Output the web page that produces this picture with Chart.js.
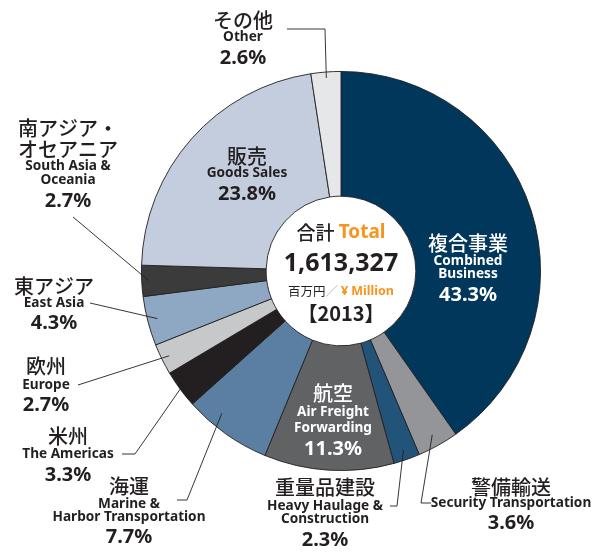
<!DOCTYPE html>
<html>
<head>
<meta charset="utf-8">
<script src="https://cdn.jsdelivr.net/npm/chart.js@4.4.1/dist/chart.umd.min.js"></script>
<style>
  html, body { margin: 0; padding: 0; background: #fff; }
  #wrap { width: 595px; height: 552px; }
</style>
</head>
<body>
<div id="wrap"><canvas id="chart" width="595" height="552"></canvas></div>
<script>
// segments, clockwise from 12 o'clock
const namesJa = ['複合事業', '警備輸送', '重量品建設', '航空', '海運', '米州', '欧州', '東アジア', '南アジア・オセアニア', '販売', 'その他'];
const namesEn = ['Combined Business', 'Security Transportation', 'Heavy Haulage & Construction', 'Air Freight Forwarding',
  'Marine & Harbor Transportation', 'The Americas', 'Europe', 'East Asia', 'South Asia & Oceania', 'Goods Sales', 'Other'];
const shares = [43.3, 3.6, 2.3, 11.3, 7.7, 3.3, 2.7, 4.3, 2.7, 23.8, 2.6];
const totalValue = '1,613,327';
const yearLabel = '2013';

const sliceColors = ['#00375b', '#939598', '#22547a', '#616264', '#5b7fa2', '#231f20',
  '#c7c8ca', '#8ea7c2', '#3b3b3c', '#c3cddd', '#e6e7e8'];

const INK = '#231f20';
const ORANGE = '#f7941d';
const JA = '"Noto Sans CJK JP", sans-serif';
const LAT = '"Noto Sans", "Noto Sans CJK JP", sans-serif';

// label layout: text lines [text, y, kind], optional leader (label-side points, ending at the slice)
const labelLayout = [
  { i: 0, x: 468, color: '#fff', lines: [['複合事業', 243, 'ja'], ['Combined', 261, 'en'], ['Business', 274, 'en'], ['43.3%', 295, 'pct']] },
  { i: 3, x: 333, color: '#fff', lines: [['航空', 393, 'ja'], ['Air Freight', 412, 'en'], ['Forwarding', 428, 'en'], ['11.3%', 449, 'pct']] },
  { i: 9, x: 247, color: INK, lines: [['販売', 156, 'ja'], ['Goods Sales', 173, 'en'], ['23.8%', 194, 'pct']] },
  { i: 10, x: 243, color: INK, lines: [['その他', 20, 'ja'], ['Other', 37, 'en'], ['2.6%', 58, 'pct']],
    leader: [[287, 29], [325, 29]], r: 0.97 },
  { i: 8, x: 68, color: INK, lines: [['南アジア・', 128, 'ja'], ['オセアニア', 149, 'ja'], ['South Asia &', 166, 'en'], ['Oceania', 180, 'en'], ['2.7%', 201, 'pct']],
    leader: [[73, 217]], r: 0.965 },
  { i: 7, x: 54, color: INK, lines: [['東アジア', 286, 'ja'], ['East Asia', 303, 'en'], ['4.3%', 323, 'pct']],
    leader: [[90, 303]], r: 0.95 },
  { i: 6, x: 46, color: INK, lines: [['欧州', 366, 'ja'], ['Europe', 385, 'en'], ['2.7%', 405, 'pct']],
    leader: [[78, 385]], r: 0.96 },
  { i: 5, x: 68, color: INK, lines: [['米州', 436, 'ja'], ['The Americas', 454, 'en'], ['3.3%', 475, 'pct']],
    leader: [[122, 454], [135, 454]], r: 1.0 },
  { i: 4, x: 129, color: INK, lines: [['海運', 486, 'ja'], ['Marine &', 504, 'en'], ['Harbor Transportation', 517, 'en'], ['7.7%', 537, 'pct']],
    leader: [[177, 500], [187, 500]], r: 0.93, t: 0.68 },
  { i: 2, x: 325, color: INK, lines: [['重量品建設', 487, 'ja'], ['Heavy Haulage &', 506, 'en'], ['Construction', 519, 'en'], ['2.3%', 540, 'pct']],
    leader: [[390, 506], [397, 506]], r: 0.95 },
  { i: 1, x: 511, color: INK, lines: [['警備輸送', 487, 'ja'], ['Security Transportation', 503, 'en'], ['3.6%', 523, 'pct']],
    leader: [[431, 503], [421, 503]], r: 0.94 }
];

function fontFor(kind) {
  if (kind === 'ja') return '500 20px ' + JA;
  if (kind === 'en') return 'bold 14.5px ' + LAT;
  return 'bold 20px ' + LAT;
}

const labelPlugin = {
  id: 'sliceLabels',
  afterDraw(chart) {
    const ctx = chart.ctx;
    const arcs = chart.getDatasetMeta(0).data;
    ctx.save();
    ctx.textAlign = 'center';
    ctx.textBaseline = 'middle';

    // leader lines
    ctx.strokeStyle = INK;
    ctx.lineWidth = 0.9;
    labelLayout.forEach(l => {
      if (!l.leader) return;
      const a = arcs[l.i];
      const t = l.t === undefined ? 0.5 : l.t;
      const ang = a.startAngle + (a.endAngle - a.startAngle) * t;
      const rr = a.outerRadius * l.r;
      ctx.beginPath();
      ctx.moveTo(l.leader[0][0], l.leader[0][1]);
      l.leader.slice(1).forEach(p => ctx.lineTo(p[0], p[1]));
      ctx.lineTo(a.x + Math.cos(ang) * rr, a.y + Math.sin(ang) * rr);
      ctx.stroke();
    });

    labelLayout.forEach(l => {
      ctx.fillStyle = l.color;
      l.lines.forEach(([txt, y, kind]) => {
        ctx.font = fontFor(kind);
        if (kind === 'en') {
          // condensed look of the original face
          ctx.save();
          ctx.translate(l.x, y);
          ctx.scale(0.94, 1);
          ctx.fillText(txt, 0, 0);
          ctx.restore();
        } else {
          ctx.fillText(txt, l.x, y);
        }
      });
    });

    // centre block
    const cx = arcs[0].x;
    const cy = arcs[0].y;
    ctx.textAlign = 'left';
    ctx.font = '500 19px ' + JA;
    const w1 = ctx.measureText('合計 ').width;
    ctx.font = 'bold 19px ' + LAT;
    const w2 = ctx.measureText('Total').width;
    let x0 = cx - (w1 + w2) / 2;
    ctx.fillStyle = INK;
    ctx.font = '500 19px ' + JA;
    ctx.fillText('合計 ', x0, cy - 38);
    ctx.fillStyle = ORANGE;
    ctx.font = 'bold 19px ' + LAT;
    ctx.fillText('Total', x0 + w1, cy - 38);

    ctx.textAlign = 'center';
    ctx.fillStyle = INK;
    ctx.font = 'bold 25px ' + LAT;
    ctx.fillText(totalValue, cx, cy - 7);

    ctx.textAlign = 'left';
    const parts = [['百万円', '400 12.5px ' + JA, INK], ['／ ', '400 12.5px ' + JA, '#b5b6b8'], ['¥ Million', 'bold 12.5px ' + LAT, ORANGE]];
    let tw = 0;
    parts.forEach(p => { ctx.font = p[1]; tw += ctx.measureText(p[0]).width; });
    x0 = cx - tw / 2;
    parts.forEach(p => {
      ctx.font = p[1];
      ctx.fillStyle = p[2];
      ctx.fillText(p[0], x0, cy + 20);
      x0 += ctx.measureText(p[0]).width;
    });

    ctx.textAlign = 'center';
    ctx.fillStyle = INK;
    ctx.font = 'bold 20px ' + JA;
    ctx.fillText('【' + yearLabel + '】', cx, cy + 42);
    ctx.restore();
  }
};

new Chart(document.getElementById('chart').getContext('2d'), {
  type: 'doughnut',
  data: {
    labels: namesJa.map((n, k) => n + ' ' + namesEn[k]),
    datasets: [{
      data: shares,
      backgroundColor: sliceColors,
      borderColor: INK,
      borderWidth: 0.9,
      hoverBorderWidth: 0.9,
      hoverOffset: 0
    }]
  },
  options: {
    responsive: false,
    animation: false,
    cutout: '37.5%',
    layout: { padding: { left: 141, right: 54, top: 71, bottom: 81 } },
    plugins: { legend: { display: false }, tooltip: { enabled: false } }
  },
  plugins: [labelPlugin]
});
</script>
</body>
</html>
